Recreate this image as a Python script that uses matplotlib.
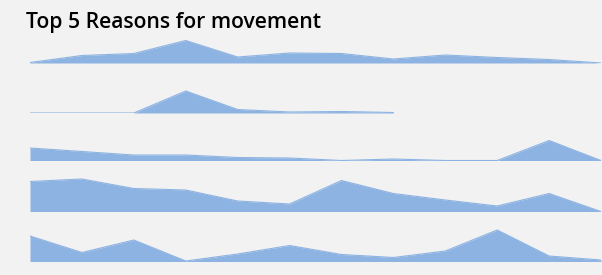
import numpy as np
import matplotlib.pyplot as plt

# Five sparkline rows, 12 periods each
periods = list(range(12))
reason_1 = [0.5, 7.5, 9.5, 22.5, 6, 10, 9.5, 4, 8, 5.5, 3.5, 0]
reason_2 = [0, 0, 0, 22, 3.5, 1, 1.5, 0.5, np.nan, np.nan, np.nan, np.nan]
reason_3 = [12.5, 9, 5.5, 5.5, 3, 2.5, 0, 1.5, 0, 0, 20, 0]
reason_4 = [30, 32.5, 23, 21.5, 10.5, 7.5, 31, 18, 11.5, 5.5, 18, 0]
reason_5 = [25.5, 9, 21.5, 0.5, 7.5, 16, 7, 4, 10.5, 31.5, 5.5, 1.5]
series = [reason_1, reason_2, reason_3, reason_4, reason_5]

bg = '#f2f2f2'
fill = '#8db3e2'
W, H = 602, 275

fig = plt.figure(figsize=(W / 100, H / 100), dpi=100, facecolor=bg)

fig.text(26 / W, 1 - 28.3 / H, 'Top 5 Reasons for movement', fontsize=15.2,
         family='Open Sans', fontweight='semibold', color='black', va='baseline')

# baseline of each row in pixels from the top
baselines = [63, 113, 160.5, 211.5, 261.5]
left, right = 30, 601
ax_h = 40

for vals, base in zip(series, baselines):
    ax = fig.add_axes([left / W, (H - base) / H, (right - left) / W, ax_h / H])
    ax.set_facecolor(bg)
    ax.patch.set_alpha(0)
    v = np.array(vals, dtype=float)
    ax.fill_between(periods, 0, v, color=fill, linewidth=0)
    ax.plot(periods, v, color=fill, lw=0.8)
    ax.set_xlim(0, 11)
    ax.set_ylim(0, ax_h)
    ax.axis('off')

fig.savefig('out.png', dpi=100, facecolor=bg)
